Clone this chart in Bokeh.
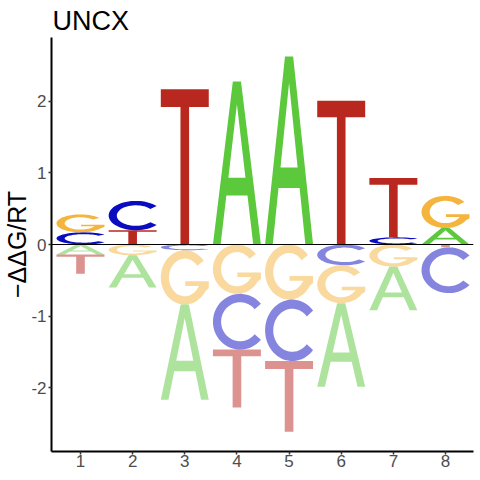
import numpy as np
from bokeh.plotting import figure
from bokeh.models import ColumnDataSource, FixedTicker, Span
from bokeh.embed import file_html
from bokeh.resources import INLINE

# ---- data ----
positions = [1, 2, 3, 4, 5, 6, 7, 8]
bases = ["A", "C", "G", "T"]
A_vals = [-0.14, -0.45, -1.33, 2.28, 2.63, -1.17, -0.61, 0.23]
C_vals = [0.17, 0.41, -0.08, -0.78, -0.86, -0.29, 0.10, -0.64]
G_vals = [0.25, -0.15, -0.76, -0.69, -0.77, -0.53, -0.31, 0.45]
T_vals = [-0.27, 0.20, 2.17, -0.81, -0.99, 2.01, 0.83, -0.04]
x_ticks = [1, 2, 3, 4, 5, 6, 7, 8]
y_ticks = [-2, -1, 0, 1, 2]
title_text = "UNCX"
y_label = "\u2212\u0394\u0394G/RT"

colors = {"A": "#5CC83B", "C": "#0B0BC0", "G": "#F5B43D", "T": "#B9281F"}
vals = {"A": A_vals, "C": C_vals, "G": G_vals, "T": T_vals}

LETTER_W = 0.92


def arc(cx, cy, rx, ry, a0, a1, n=48):
    t = np.radians(np.linspace(a0, a1, n))
    return list(zip(cx + rx * np.cos(t), cy + ry * np.sin(t)))


def glyph_rings(letter):
    if letter == "A":
        outer = [(0, 0), (0.415, 1), (0.585, 1), (1, 0), (0.84, 0), (0.72, 0.30),
                 (0.28, 0.30), (0.16, 0)]
        hole = [(0.322, 0.41), (0.5, 0.86), (0.678, 0.41)]
        return [outer, hole]
    if letter == "T":
        return [[(0, 1), (1, 1), (1, 0.886), (0.59, 0.886), (0.59, 0), (0.41, 0),
                 (0.41, 0.886), (0, 0.886)]]
    if letter == "C":
        cx = 1 / (1 + np.cos(np.radians(40)))
        return [arc(cx, 0.5, cx, 0.5, 40, 320) + arc(cx, 0.5, cx - 0.17, 0.35, 320, 40)]
    if letter == "G":
        return [arc(0.5, 0.5, 0.5, 0.5, 38, 330)
                + [(1, 0.30), (1, 0.43), (0.51, 0.43), (0.51, 0.34), (0.80, 0.34)]
                + arc(0.5, 0.5, 0.33, 0.346, 330, 38)]


xs, ys, fills, alphas = [], [], [], []


def add_letter(letter, pos, y0, y1, alpha):
    rings = glyph_rings(letter)
    rx, ry = [], []
    for ring in rings:
        rx.append([pos - LETTER_W / 2 + u * LETTER_W for u, v in ring])
        ry.append([y0 + v * (y1 - y0) for u, v in ring])
    xs.append([rx])
    ys.append([ry])
    fills.append(colors[letter])
    alphas.append(alpha)


for i, pos in enumerate(positions):
    items = [(b, vals[b][i]) for b in bases]
    pos_items = sorted([it for it in items if it[1] > 0], key=lambda t: abs(t[1]))
    neg_items = sorted([it for it in items if it[1] < 0], key=lambda t: abs(t[1]))
    base = 0.0
    for b, v in pos_items:
        add_letter(b, pos, base, base + v, 1.0)
        base += v
    base = 0.0
    for b, v in neg_items:
        add_letter(b, pos, base + v, base, 0.5)
        base += v

src = ColumnDataSource(dict(xs=xs, ys=ys, fill=fills, alpha=alphas))

p = figure(width=480, height=480, x_range=(0.444, 8.537), y_range=(-2.895, 2.895),
           toolbar_location=None, output_backend="svg", title=title_text,
           min_border_left=51, min_border_right=7, min_border_top=37, min_border_bottom=29)
p.grid.visible = False
p.outline_line_color = None
p.background_fill_color = "white"

p.title.text_font = "Liberation Sans"
p.title.text_font_size = "27px"
p.title.text_font_style = "normal"
p.title.text_color = "black"
p.title.align = "left"
p.title.offset = 1
p.title.standoff = 4

p.multi_polygons(xs="xs", ys="ys", source=src, fill_color="fill", fill_alpha="alpha",
                 line_color=None)

p.add_layout(Span(location=0, dimension="width", line_color="black", line_width=1))

for ax, ticks in ((p.xaxis[0], x_ticks), (p.yaxis[0], y_ticks)):
    ax.ticker = FixedTicker(ticks=ticks)
    ax.major_label_overrides = {t: str(t) for t in ticks}
    ax.minor_tick_line_color = None
    ax.axis_line_color = "black"
    ax.axis_line_width = 2
    ax.major_tick_line_color = "#333333"
    ax.major_tick_line_width = 1.5
    ax.major_tick_in = 0
    ax.major_tick_out = 3
    ax.major_label_text_font = "Liberation Sans"
    ax.major_label_text_font_size = "17px"
    ax.major_label_text_color = "#4D4D4D"
p.xaxis.major_label_standoff = 0
p.yaxis.major_label_standoff = 2
p.yaxis.axis_label = y_label
p.yaxis.axis_label_standoff = -3
p.yaxis.axis_label_text_font = "Liberation Sans"
p.yaxis.axis_label_text_font_size = "25px"
p.yaxis.axis_label_text_font_style = "normal"
p.yaxis.axis_label_text_color = "black"

open("out.html", "w").write(file_html(p, INLINE))
